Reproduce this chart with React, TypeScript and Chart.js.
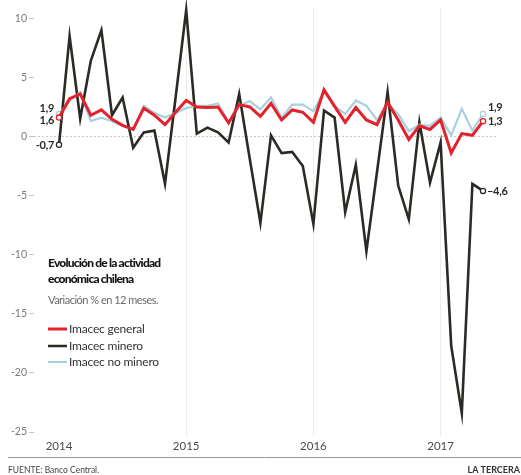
import { useEffect, useRef } from "react";
import { Chart, registerables } from "chart.js";

Chart.register(...registerables);

// ---- data (Jan 2014 .. May 2017, monthly, % change over 12 months) ----
const years = ["2014", "2015", "2016", "2017"];
const yearStartIndex = [0, 12, 24, 36];
const yTicks = [10, 5, 0, -5, -10, -15, -20, -25];

const imacecGeneral = [
  1.6, 3.2, 3.6, 1.8, 2.25, 1.45, 0.95, 0.6, 2.4, 1.8, 1.0, 2.05,
  3.05, 2.5, 2.45, 2.5, 1.15, 2.7, 2.5, 1.7, 2.8, 1.4, 2.25, 2.05,
  1.2, 3.95, 2.55, 1.2, 2.45, 1.4, 1.0, 2.9, 1.4, -0.25, 0.9, 0.6,
  1.4, -1.4, 0.25, 0.1, 1.3,
];
const imacecMinero = [
  -0.7, 8.5, 1.5, 6.4, 9.0, 1.8, 3.3, -0.95, 0.35, 0.5, -4.0, 3.3,
  10.7, 0.25, 0.75, 0.35, -0.5, 3.6, -1.9, -7.3, 0.1, -1.4, -1.3, -2.5,
  -7.4, 2.2, 1.6, -6.4, -2.4, -9.7, -3.0, 3.75, -4.15, -7.0, 1.2, -3.9,
  -0.5, -17.7, -23.4, -4.0, -4.6,
];
const imacecNoMinero = [
  1.9, 3.0, 3.75, 1.3, 1.6, 1.3, 0.9, 0.6, 2.6, 2.0, 1.6, 2.0,
  2.4, 2.6, 2.6, 2.8, 1.2, 2.6, 3.0, 2.3, 3.3, 1.6, 2.7, 2.7,
  2.15, 3.8, 2.6, 1.9, 3.05, 2.6, 1.4, 2.8, 1.9, 0.45, 1.0, 0.9,
  1.6, 0.1, 2.35, 0.5, 1.9,
];
const seriesNames = ["Imacec general", "Imacec minero", "Imacec no minero"];

const RED = "#e3222b";
const BLACK = "#2b2b26";
const BLUE = "#a8d1df";
const FONT = "Lato, 'Open Sans', sans-serif";

const fmt = (v: number) => v.toFixed(1).replace(".", ",");

function setSpacing(ctx: any, s: string) {
  if ("letterSpacing" in ctx) ctx.letterSpacing = s;
}

const textPlugin = {
  id: "texts",
  afterDraw(chart: any) {
    const ctx = chart.ctx as CanvasRenderingContext2D;
    const xs = chart.scales.x;
    const ys = chart.scales.y;
    ctx.save();

    // Title block
    ctx.textAlign = "left";
    ctx.textBaseline = "alphabetic";
    ctx.fillStyle = "#151515";
    ctx.font = `900 12px ${FONT}`;
    setSpacing(ctx, "-0.8px");
    ctx.fillText("Evolución de la actividad", 48, 267);
    ctx.fillText("económica chilena", 48, 283);
    ctx.fillStyle = "#6a6a6a";
    ctx.font = `11px ${FONT}`;
    setSpacing(ctx, "-0.5px");
    ctx.fillText("Variación % en 12 meses.", 48, 304);

    // Legend
    const legend = [
      { name: seriesNames[0], color: RED, w: 3, y: 329 },
      { name: seriesNames[1], color: BLACK, w: 2.5, y: 346 },
      { name: seriesNames[2], color: BLUE, w: 2, y: 362 },
    ];
    ctx.font = `12px ${FONT}`;
    setSpacing(ctx, "-0.2px");
    ctx.textBaseline = "middle";
    for (const l of legend) {
      ctx.strokeStyle = l.color;
      ctx.lineWidth = l.w;
      ctx.beginPath();
      ctx.moveTo(48, l.y);
      ctx.lineTo(67, l.y);
      ctx.stroke();
      ctx.fillStyle = "#333";
      ctx.fillText(l.name, 69, l.y + 0.5);
    }

    // End labels
    ctx.font = `bold 11px ${FONT}`;
    setSpacing(ctx, "-0.3px");
    ctx.fillStyle = "#2a2a2a";
    const last = imacecGeneral.length - 1;
    const x0 = xs.getPixelForValue(0);
    const xl = xs.getPixelForValue(last);
    ctx.textAlign = "right";
    ctx.fillText(fmt(imacecNoMinero[0]), x0 - 5, ys.getPixelForValue(imacecNoMinero[0]) - 6);
    ctx.fillText(fmt(imacecGeneral[0]), x0 - 5, ys.getPixelForValue(imacecGeneral[0]) + 3);
    ctx.fillText(fmt(imacecMinero[0]), x0 - 5, ys.getPixelForValue(imacecMinero[0]) + 1);
    ctx.textAlign = "left";
    ctx.fillText(fmt(imacecNoMinero[last]), xl + 5, ys.getPixelForValue(imacecNoMinero[last]) - 6.5);
    ctx.fillText(fmt(imacecGeneral[last]), xl + 5, ys.getPixelForValue(imacecGeneral[last]));
    ctx.fillText(fmt(imacecMinero[last]).replace("-", "–"), xl + 4, ys.getPixelForValue(imacecMinero[last]) + 0.5);

    // Footer
    ctx.strokeStyle = "#9a9a9a";
    ctx.lineWidth = 1;
    ctx.beginPath();
    ctx.moveTo(8, 457.5);
    ctx.lineTo(521, 457.5);
    ctx.stroke();
    ctx.textBaseline = "alphabetic";
    ctx.textAlign = "left";
    ctx.fillStyle = "#444";
    ctx.font = `8.5px ${FONT}`;
    setSpacing(ctx, "0px");
    ctx.fillText("FUENTE: Banco Central.", 8, 473);
    ctx.textAlign = "right";
    ctx.font = `bold 9px ${FONT}`;
    ctx.fillStyle = "#333";
    ctx.fillText("LA TERCERA", 520, 473);

    ctx.restore();
  },
};

export default function App() {
  const ref = useRef<HTMLCanvasElement | null>(null);

  useEffect(() => {
    if (!ref.current) return;
    const lastIdx = imacecGeneral.length - 1;
    const endRadius = (c: any) => (c.dataIndex === 0 || c.dataIndex === lastIdx ? 2.6 : 0);
    const toXY = (arr: number[]) => arr.map((v, i) => ({ x: i, y: v }));

    const chart = new Chart(ref.current, {
      type: "line",
      data: {
        datasets: [
          {
            label: seriesNames[0],
            data: toXY(imacecGeneral),
            borderColor: RED,
            borderWidth: 3,
            pointRadius: endRadius,
            pointBorderWidth: 1.3,
            pointBorderColor: RED,
            pointBackgroundColor: "#fff",
            tension: 0,
            clip: false,
          },
          {
            label: seriesNames[2],
            data: toXY(imacecNoMinero),
            borderColor: BLUE,
            borderWidth: 2.2,
            pointRadius: endRadius,
            pointBorderWidth: 1.3,
            pointBorderColor: BLUE,
            pointBackgroundColor: "#fff",
            tension: 0,
            clip: false,
          },
          {
            label: seriesNames[1],
            data: toXY(imacecMinero),
            borderColor: BLACK,
            borderWidth: 2.6,
            pointRadius: endRadius,
            pointBorderWidth: 1.3,
            pointBorderColor: BLACK,
            pointBackgroundColor: "#fff",
            tension: 0,
            clip: false,
          },
        ],
      },
      options: {
        animation: false,
        responsive: false,
        devicePixelRatio: 1,
        layout: { padding: { top: 8, right: 25, bottom: 0, left: 0 } },
        plugins: { legend: { display: false }, tooltip: { enabled: false } },
        scales: {
          x: {
            type: "linear",
            min: -2.358,
            max: 41.226,
            afterBuildTicks: (s: any) => {
              s.ticks = yearStartIndex.map((v) => ({ value: v }));
            },
            afterFit: (s: any) => {
              s.height = 39;
            },
            ticks: {
              callback: (v: any) => years[yearStartIndex.indexOf(Number(v))] ?? "",
              color: "#4a4a4a",
              font: { family: FONT, size: 11.5 },
              padding: 3,
              maxRotation: 0,
              autoSkip: false,
            },
            grid: {
              drawTicks: false,
              color: (c: any) => (c.tick && c.tick.value === 0 ? "rgba(0,0,0,0)" : "#ececec"),
              lineWidth: 1,
            },
            border: { display: false },
          },
          y: {
            type: "linear",
            min: -25.33,
            max: 10.845,
            afterBuildTicks: (s: any) => {
              s.ticks = yTicks.map((v) => ({ value: v }));
            },
            afterFit: (s: any) => {
              s.width = 34;
            },
            ticks: {
              color: "#7a7a7a",
              font: { family: FONT, size: 10.5 },
              padding: 2,
            },
            grid: {
              drawTicks: true,
              tickLength: 5,
              tickWidth: 1,
              tickColor: "#c4c4c4",
              color: (c: any) => (c.tick && c.tick.value === 0 ? "#c8c8c8" : "rgba(0,0,0,0)"),
              lineWidth: 1,
            },
            border: { display: false, dash: [2, 2] },
          },
        },
      },
      plugins: [textPlugin],
    } as any);

    return () => chart.destroy();
  }, []);

  return (
    <div style={{ position: "fixed", left: 0, top: 0, width: 521, height: 475, background: "#fff" }}>
      <canvas ref={ref} width={521} height={475} style={{ display: "block" }} />
    </div>
  );
}
